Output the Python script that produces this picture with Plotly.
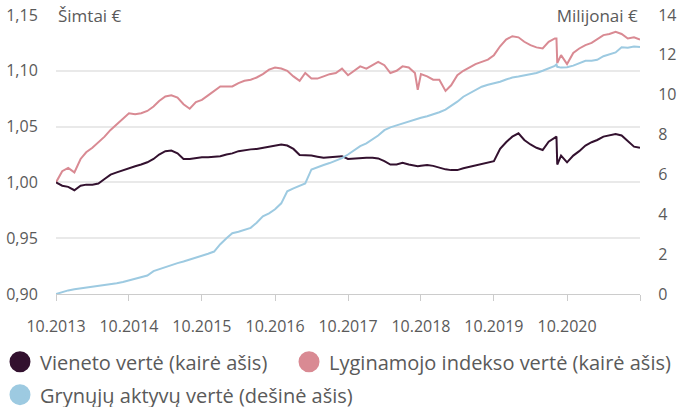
import plotly.graph_objects as go

# ---- data ----
monthly_dates = [f"{2013 + (9 + m) // 12}-{(9 + m) % 12 + 1:02d}-01" for m in range(97)]
extra_dates = ["2018-09-15", "2020-08-09", "2020-08-13"]
dates = sorted(monthly_dates + extra_dates)

unit_value = [
    1.000, 0.997, 0.996, 0.993, 0.997, 0.998, 0.998, 0.999, 1.003, 1.007, 1.009, 1.011,
    1.013, 1.0145, 1.016, 1.018, 1.021, 1.025, 1.028, 1.0285, 1.026, 1.021, 1.021, 1.022,
    1.0225, 1.0225, 1.023, 1.0235, 1.025, 1.026, 1.028, 1.029, 1.0296, 1.030, 1.031, 1.032,
    1.033, 1.034, 1.033, 1.030, 1.0245, 1.0245, 1.024, 1.023, 1.022, 1.0225, 1.023, 1.0235,
    1.021, 1.0215, 1.0215, 1.022, 1.022, 1.0215, 1.019, 1.016, 1.016, 1.0175, 1.016, 1.0145,
    1.0145,
    1.015, 1.0155, 1.0148, 1.013, 1.0117, 1.011, 1.011, 1.0126, 1.014, 1.015, 1.0165, 1.0178,
    1.019, 1.030, 1.036, 1.041, 1.044, 1.038, 1.034, 1.031, 1.029, 1.0365, 1.040,
    1.041, 1.016,
    1.024, 1.018, 1.024, 1.028, 1.033, 1.036, 1.038, 1.041, 1.042, 1.0434, 1.042, 1.037,
    1.032, 1.031,
]

index_value = [
    1.000, 1.010, 1.013, 1.009, 1.021, 1.027, 1.031, 1.036, 1.041, 1.047, 1.052, 1.057,
    1.062, 1.061, 1.062, 1.064, 1.068, 1.073, 1.077, 1.078, 1.076, 1.070, 1.066, 1.072,
    1.074, 1.078, 1.082, 1.086, 1.086, 1.086, 1.089, 1.091, 1.092, 1.094, 1.097, 1.101,
    1.103, 1.102, 1.100, 1.095, 1.091, 1.098, 1.093, 1.093, 1.095, 1.097, 1.098, 1.102,
    1.096, 1.100, 1.104, 1.102, 1.105, 1.108, 1.105, 1.098, 1.100, 1.104, 1.103, 1.098,
    1.083,
    1.097, 1.095, 1.092, 1.092, 1.082, 1.087, 1.096, 1.100, 1.103, 1.106, 1.108, 1.110,
    1.114, 1.122, 1.128, 1.131, 1.130, 1.126, 1.123, 1.121, 1.120, 1.126, 1.129,
    1.129, 1.107,
    1.114, 1.106, 1.116, 1.120, 1.123, 1.125, 1.128, 1.132, 1.133, 1.135, 1.133, 1.129,
    1.130, 1.128,
]

net_assets = [
    0.00, 0.10, 0.18, 0.24, 0.28, 0.32, 0.36, 0.40, 0.44, 0.49, 0.54, 0.60,
    0.68, 0.76, 0.84, 0.93, 1.15, 1.25, 1.35, 1.45, 1.55, 1.63, 1.72, 1.82,
    1.91, 2.02, 2.13, 2.50, 2.80, 3.05, 3.12, 3.20, 3.32, 3.58, 3.90, 4.05,
    4.25, 4.55, 5.15, 5.30, 5.45, 5.55, 6.25, 6.37, 6.47, 6.57, 6.68, 6.82,
    7.00, 7.23, 7.42, 7.56, 7.75, 7.95, 8.22, 8.36, 8.46, 8.56, 8.66, 8.76,
    8.80,
    8.84, 8.92, 9.00, 9.12, 9.25, 9.42, 9.65, 9.90, 10.08, 10.25, 10.40, 10.50,
    10.56, 10.65, 10.76, 10.86, 10.91, 10.96, 11.02, 11.09, 11.20, 11.31, 11.45,
    11.52, 11.40,
    11.36, 11.38, 11.46, 11.58, 11.70, 11.70, 11.75, 11.93, 12.03, 12.12, 12.38, 12.36,
    12.42, 12.40,
]

series_names = [
    "Vieneto vertė (kairė ašis)",
    "Lyginamojo indekso vertė (kairė ašis)",
    "Grynųjų aktyvų vertė (dešinė ašis)",
]
x_tick_dates = [f"{y}-10-01" for y in range(2013, 2022)]
x_tick_labels = ["10.2013", "10.2014", "10.2015", "10.2016", "10.2017",
                 "10.2018", "10.2019", "10.2020", ""]
left_ticks = [0.90, 0.95, 1.00, 1.05, 1.10, 1.15]
left_tick_labels = ["0,90", "0,95", "1,00", "1,05", "1,10", "1,15"]
right_ticks = [0, 2, 4, 6, 8, 10, 12, 14]
left_title = "Šimtai €"
right_title = "Milijonai €"

# ---- styling ----
C_DARK = "#33112f"
C_PINK = "#d98a93"
C_BLUE = "#9dcae1"
TXT = "#5a5a5a"
FONT = "Open Sans"
CLEAR = "rgba(0,0,0,0)"

fig = go.Figure()
fig.add_trace(go.Scatter(x=dates, y=net_assets, yaxis="y2", mode="lines",
                         line=dict(color=C_BLUE, width=2), showlegend=False))
fig.add_trace(go.Scatter(x=dates, y=index_value, mode="lines",
                         line=dict(color=C_PINK, width=2), showlegend=False))
fig.add_trace(go.Scatter(x=dates, y=unit_value, mode="lines",
                         line=dict(color=C_DARK, width=2), showlegend=False))

for name, col, leg in zip(series_names, [C_DARK, C_PINK, C_BLUE],
                          ["legend", "legend2", "legend3"]):
    fig.add_trace(go.Scatter(x=[None], y=[None], mode="markers", name=name,
                             legend=leg,
                             marker=dict(color=col, size=16, symbol="circle",
                                         line=dict(color=col, width=5))))

legend_common = dict(
    orientation="h", xanchor="left", yanchor="top",
    font=dict(size=20, color=TXT), itemsizing="trace",
    tracegroupgap=0, traceorder="normal", bgcolor=CLEAR,
)

fig.update_layout(
    width=690, height=407,
    margin=dict(l=56, r=50, t=15, b=113, autoexpand=False),
    paper_bgcolor="white", plot_bgcolor="white",
    font=dict(family=FONT, size=16, color=TXT),
    xaxis=dict(
        type="date", range=["2013-10-01", "2021-10-01"],
        tickvals=x_tick_dates, ticktext=x_tick_labels,
        ticks="outside", ticklen=6, tickcolor="#cccccc", tickwidth=1,
        showline=True, linecolor="#cccccc", linewidth=1,
        showgrid=False, zeroline=False, ticklabelstandoff=12,
        tickfont=dict(size=16, color=TXT),
    ),
    yaxis=dict(
        range=[0.90, 1.15], tickvals=left_ticks, ticktext=left_tick_labels,
        showgrid=True, gridcolor="#e9e9e9", gridwidth=1.5,
        zeroline=False, showline=False, ticks="outside", ticklen=14, tickcolor=CLEAR,
        tickfont=dict(size=16, color=TXT),
    ),
    yaxis2=dict(
        range=[0, 14], tickvals=right_ticks, overlaying="y", side="right",
        showgrid=False, zeroline=False, showline=False, ticks="outside",
        ticklen=14, tickcolor=CLEAR,
        tickfont=dict(size=16, color=TXT),
    ),
    legend=dict(x=-0.0959, y=-0.173, **legend_common),
    legend2=dict(x=0.399, y=-0.173, **legend_common),
    legend3=dict(x=-0.0959, y=-0.291, **legend_common),
    annotations=[
        dict(text=left_title, xref="paper", yref="paper", x=0, y=1,
             xanchor="left", yanchor="middle", showarrow=False,
             bgcolor="white", width=91, align="left",
             font=dict(size=17, color=TXT)),
        dict(text=right_title, xref="paper", yref="paper", x=1, y=1,
             xanchor="right", yanchor="middle", showarrow=False,
             bgcolor="white", width=108, align="right",
             font=dict(size=17, color=TXT)),
    ],
)

fig.write_html("out.html", config={"displayModeBar": False},
               post_script="document.body.style.margin='0';")
